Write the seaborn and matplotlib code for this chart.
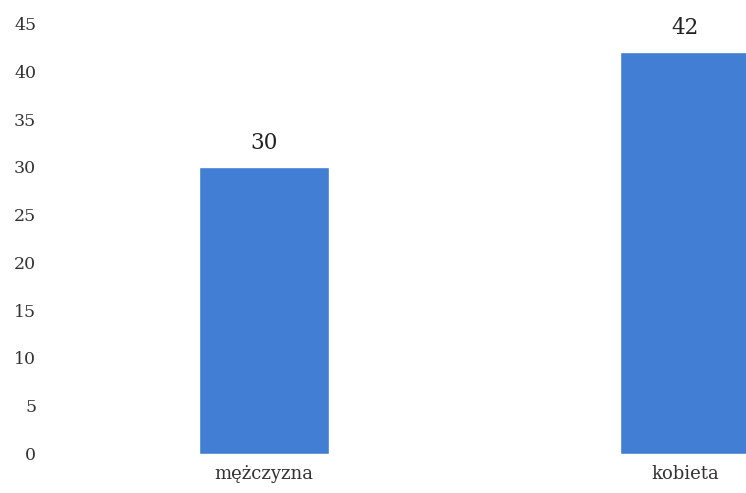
import matplotlib
matplotlib.use("Agg")
import matplotlib.pyplot as plt
import seaborn as sns
import pandas as pd

categories = ["mężczyzna", "kobieta"]
values = [30, 42]
yticks = [0, 5, 10, 15, 20, 25, 30, 35, 40, 45]

sns.set_style("white")
plt.rcParams["font.family"] = ["DejaVu Serif"]

df = pd.DataFrame({"cat": categories, "val": values})

fig = plt.figure(figsize=(7.46, 4.93), dpi=100)
ax = fig.add_axes([0.0717, 0.0801, 1.1287, 0.8722])
sns.barplot(data=df, x="cat", y="val", color="#427ed3", width=0.31,
            saturation=1, ax=ax)
ax.set_xlim(-0.5, 1.5)
ax.set_ylim(0, 45)
ax.set_yticks(yticks)
ax.set_xlabel("")
ax.set_ylabel("")
for s in ax.spines.values():
    s.set_visible(False)
ax.tick_params(axis="y", length=0, pad=12.5, labelsize=12.5, labelcolor="#333333")
ax.tick_params(axis="x", length=0, pad=8.5, labelsize=13, labelcolor="#333333")
for p, v in zip(ax.patches, values):
    ax.annotate(f"{v}", (p.get_x() + p.get_width() / 2, p.get_height()),
                xytext=(0, 17.5), textcoords="offset points", ha="center",
                va="center", fontsize=15.5, color="#222222")
fig.savefig("out.png", dpi=100)
